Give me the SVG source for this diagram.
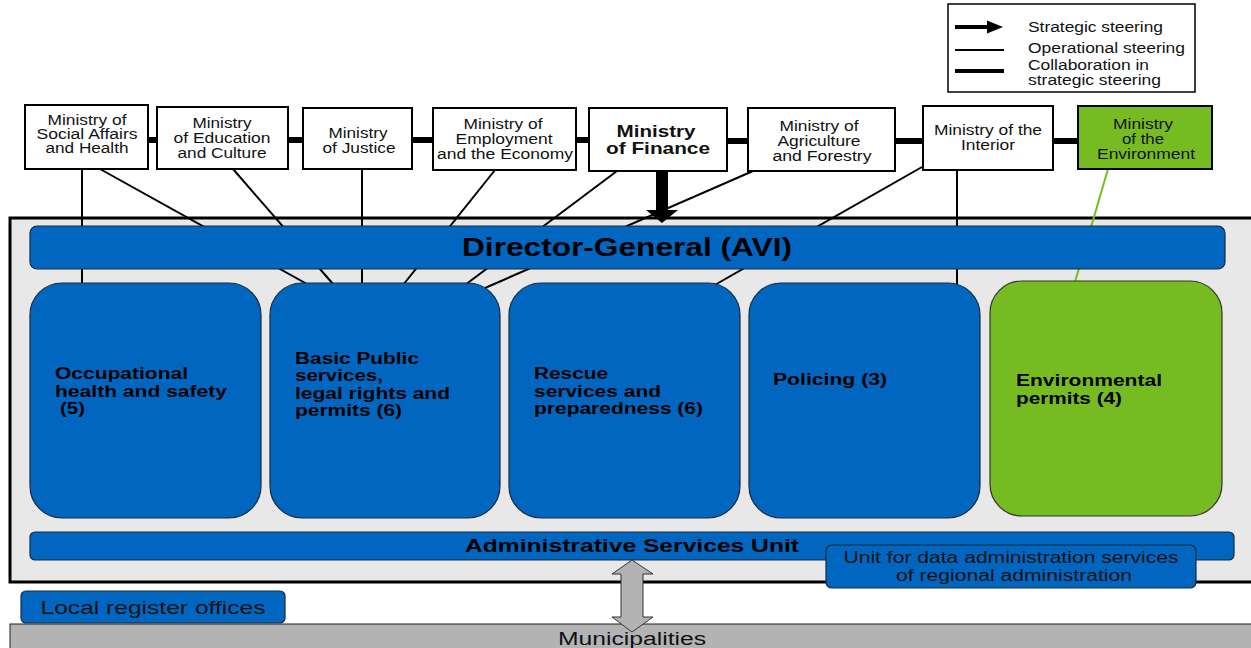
<svg xmlns="http://www.w3.org/2000/svg" width="1251" height="648" viewBox="0 0 1251 648">
<defs>
<style>
text{font-family:"Liberation Sans",Arial,sans-serif}
.min{fill:#fff;stroke:#000;stroke-width:2}
.mt{font-size:14px;fill:#111;text-anchor:middle}
.blue{fill:#0066bf;stroke:#1a2a3a;stroke-width:1.2}
.green{fill:#77bb22;stroke:#333;stroke-width:1.2}
.bt{font-size:16px;font-weight:bold;fill:#000}
.op{stroke:#000;stroke-width:2;fill:none}
.col{stroke:#000;stroke-width:6;fill:none}
.lt{font-size:14px;fill:#111}
</style>
</defs>
<rect width="1251" height="648" fill="#fff"/>

<g id="legend">
<rect x="948" y="4" width="247" height="88" fill="#fff" stroke="#000" stroke-width="1.5"/>
<line x1="955" y1="27" x2="990" y2="27" stroke="#000" stroke-width="4"/>
<path d="M987,20.5 L1003,27 L987,33.5 z" fill="#000"/>
<line x1="955" y1="50" x2="1004" y2="50" stroke="#000" stroke-width="2"/>
<line x1="955" y1="71" x2="1004" y2="71" stroke="#000" stroke-width="4"/>
<text class="lt" x="1028" y="32" textLength="135" lengthAdjust="spacingAndGlyphs">Strategic steering</text>
<text class="lt" x="1028" y="53" textLength="157" lengthAdjust="spacingAndGlyphs">Operational steering</text>
<text class="lt" x="1028" y="70" textLength="121" lengthAdjust="spacingAndGlyphs">Collaboration in</text>
<text class="lt" x="1028" y="85" textLength="133" lengthAdjust="spacingAndGlyphs">strategic steering</text>
</g>

<g id="container">
<rect x="10" y="218" width="1250" height="364" fill="#e8e8e8" stroke="#000" stroke-width="3"/>
</g>

<g id="connectors">
<line class="col" x1="148" y1="140" x2="157" y2="140"/>
<line class="col" x1="288" y1="140" x2="303" y2="140"/>
<line class="col" x1="412" y1="140" x2="433" y2="140"/>
<line class="col" x1="576" y1="140" x2="589" y2="140"/>
<line class="col" x1="727" y1="141" x2="748" y2="141"/>
<line class="col" x1="895" y1="141" x2="923" y2="141"/>
<line class="col" x1="1053" y1="141" x2="1078" y2="141"/>
<line class="op" x1="82" y1="169" x2="82" y2="285"/>
<line class="op" x1="100" y1="169" x2="307" y2="284"/>
<line class="op" x1="233" y1="169" x2="333" y2="284"/>
<line class="op" x1="362" y1="169" x2="362" y2="285"/>
<line class="op" x1="495" y1="170" x2="403" y2="285"/>
<line class="op" x1="617" y1="171" x2="465" y2="285"/>
<line class="op" x1="753" y1="171" x2="485" y2="288"/>
<line class="op" x1="922" y1="167" x2="713" y2="286"/>
<line class="op" x1="957" y1="170" x2="957" y2="290"/>
<line x1="1108" y1="169" x2="1075" y2="282" stroke="#77bb22" stroke-width="2"/>
<path d="M656,171 H668 V210 H678 L662,223 L646,210 H656 z" fill="#000"/>
</g>

<g id="m-social"><rect class="min" x="25" y="105" width="123" height="64"/>
<text class="mt" x="87" y="125" textLength="79" lengthAdjust="spacingAndGlyphs">Ministry of</text><text class="mt" x="87" y="139" textLength="101" lengthAdjust="spacingAndGlyphs">Social Affairs</text><text class="mt" x="87" y="153" textLength="83" lengthAdjust="spacingAndGlyphs">and Health</text></g>
<g id="m-education"><rect class="min" x="157" y="107" width="131" height="62"/>
<text class="mt" x="222" y="128" textLength="59" lengthAdjust="spacingAndGlyphs">Ministry</text><text class="mt" x="222" y="143" textLength="97" lengthAdjust="spacingAndGlyphs">of Education</text><text class="mt" x="222" y="158" textLength="89" lengthAdjust="spacingAndGlyphs">and Culture</text></g>
<g id="m-justice"><rect class="min" x="303" y="108" width="109" height="61"/>
<text class="mt" x="358" y="138" textLength="59" lengthAdjust="spacingAndGlyphs">Ministry</text><text class="mt" x="359" y="153" textLength="73" lengthAdjust="spacingAndGlyphs">of Justice</text></g>
<g id="m-employment"><rect class="min" x="433" y="108" width="143" height="62"/>
<text class="mt" x="503" y="129" textLength="79" lengthAdjust="spacingAndGlyphs">Ministry of</text><text class="mt" x="504" y="144" textLength="97" lengthAdjust="spacingAndGlyphs">Employment</text><text class="mt" x="505" y="159" textLength="136" lengthAdjust="spacingAndGlyphs">and the Economy</text></g>
<g id="m-finance"><rect class="min" x="589" y="108" width="138" height="63"/>
<text class="mt" x="656" y="137" style="font-size:17px;font-weight:bold" textLength="79" lengthAdjust="spacingAndGlyphs">Ministry</text><text class="mt" x="658" y="154" style="font-size:17px;font-weight:bold" textLength="104" lengthAdjust="spacingAndGlyphs">of Finance</text></g>
<g id="m-agriculture"><rect class="min" x="748" y="108" width="147" height="63"/>
<text class="mt" x="819" y="131" textLength="79" lengthAdjust="spacingAndGlyphs">Ministry of</text><text class="mt" x="819" y="146" textLength="83" lengthAdjust="spacingAndGlyphs">Agriculture</text><text class="mt" x="822" y="161" textLength="99" lengthAdjust="spacingAndGlyphs">and Forestry</text></g>
<g id="m-interior"><rect class="min" x="923" y="106" width="130" height="64"/>
<text class="mt" x="988" y="135" textLength="108" lengthAdjust="spacingAndGlyphs">Ministry of the</text><text class="mt" x="988" y="150" textLength="54" lengthAdjust="spacingAndGlyphs">Interior</text></g>
<g id="m-environment"><rect x="1078" y="106" width="134" height="63" fill="#77bb22" stroke="#000" stroke-width="2"/>
<text class="mt" x="1143" y="129" textLength="60" lengthAdjust="spacingAndGlyphs">Ministry</text><text class="mt" x="1143" y="144" textLength="42" lengthAdjust="spacingAndGlyphs">of the</text><text class="mt" x="1146" y="159" textLength="98" lengthAdjust="spacingAndGlyphs">Environment</text></g>

<g id="director-general"><rect class="blue" x="30" y="226" width="1195" height="43" rx="7"/>
<text x="627" y="256" text-anchor="middle" style="font-size:25px;font-weight:bold;fill:#000" textLength="330" lengthAdjust="spacingAndGlyphs">Director-General (AVI)</text></g>

<g id="occupational"><rect class="blue" x="30" y="283" width="231" height="235" rx="32"/>
<text class="bt" x="55" y="379" textLength="133" lengthAdjust="spacingAndGlyphs">Occupational</text><text class="bt" x="55" y="397" textLength="172" lengthAdjust="spacingAndGlyphs">health and safety</text><text class="bt" x="60" y="414" textLength="25" lengthAdjust="spacingAndGlyphs">(5)</text></g>
<g id="basic-public"><rect class="blue" x="270" y="283" width="230" height="235" rx="32"/>
<text class="bt" x="295" y="364" textLength="124" lengthAdjust="spacingAndGlyphs">Basic Public</text><text class="bt" x="295" y="381" textLength="88" lengthAdjust="spacingAndGlyphs">services,</text><text class="bt" x="295" y="399" textLength="155" lengthAdjust="spacingAndGlyphs">legal rights and</text><text class="bt" x="295" y="416" textLength="107" lengthAdjust="spacingAndGlyphs">permits (6)</text></g>
<g id="rescue"><rect class="blue" x="509" y="283" width="231" height="235" rx="32"/>
<text class="bt" x="534" y="379" textLength="74" lengthAdjust="spacingAndGlyphs">Rescue</text><text class="bt" x="534" y="397" textLength="127" lengthAdjust="spacingAndGlyphs">services and</text><text class="bt" x="534" y="414" textLength="169" lengthAdjust="spacingAndGlyphs">preparedness (6)</text></g>
<g id="policing"><rect class="blue" x="749" y="283" width="231" height="235" rx="32"/>
<text class="bt" x="773" y="385" textLength="114" lengthAdjust="spacingAndGlyphs">Policing (3)</text></g>
<g id="environmental"><rect class="green" x="990" y="281" width="232" height="235" rx="32"/>
<text class="bt" x="1016" y="386" textLength="146" lengthAdjust="spacingAndGlyphs">Environmental</text><text class="bt" x="1016" y="404" textLength="106" lengthAdjust="spacingAndGlyphs">permits (4)</text></g>

<g id="admin-services"><rect class="blue" x="30" y="532" width="1204" height="28" rx="5"/>
<text x="632" y="552" text-anchor="middle" style="font-size:19px;font-weight:bold;fill:#000" textLength="334" lengthAdjust="spacingAndGlyphs">Administrative Services Unit</text></g>
<g id="data-unit"><rect class="blue" x="826" y="545" width="370" height="43" rx="6"/>
<text class="mt" x="1011" y="563" style="font-size:16px" textLength="335" lengthAdjust="spacingAndGlyphs">Unit for data administration services</text><text class="mt" x="1014" y="581" style="font-size:16px" textLength="236" lengthAdjust="spacingAndGlyphs">of regional administration</text></g>

<g id="local-register"><rect class="blue" x="21" y="591" width="264" height="32" rx="5"/>
<text class="mt" x="153" y="614" style="font-size:18px" textLength="225" lengthAdjust="spacingAndGlyphs">Local register offices</text></g>

<g id="municipalities"><rect x="10" y="624" width="1250" height="30" fill="#b3b3b3" stroke="#222" stroke-width="1"/>
<text class="mt" x="632" y="645" style="font-size:18px" textLength="148" lengthAdjust="spacingAndGlyphs">Municipalities</text></g>

<g id="double-arrow">
<path d="M632,560 L653,574 H643 V617 H653 L632,632 L612,617 H621 V574 H612 z" fill="#b3b3b3" stroke="#333" stroke-width="1"/>
</g>
</svg>
